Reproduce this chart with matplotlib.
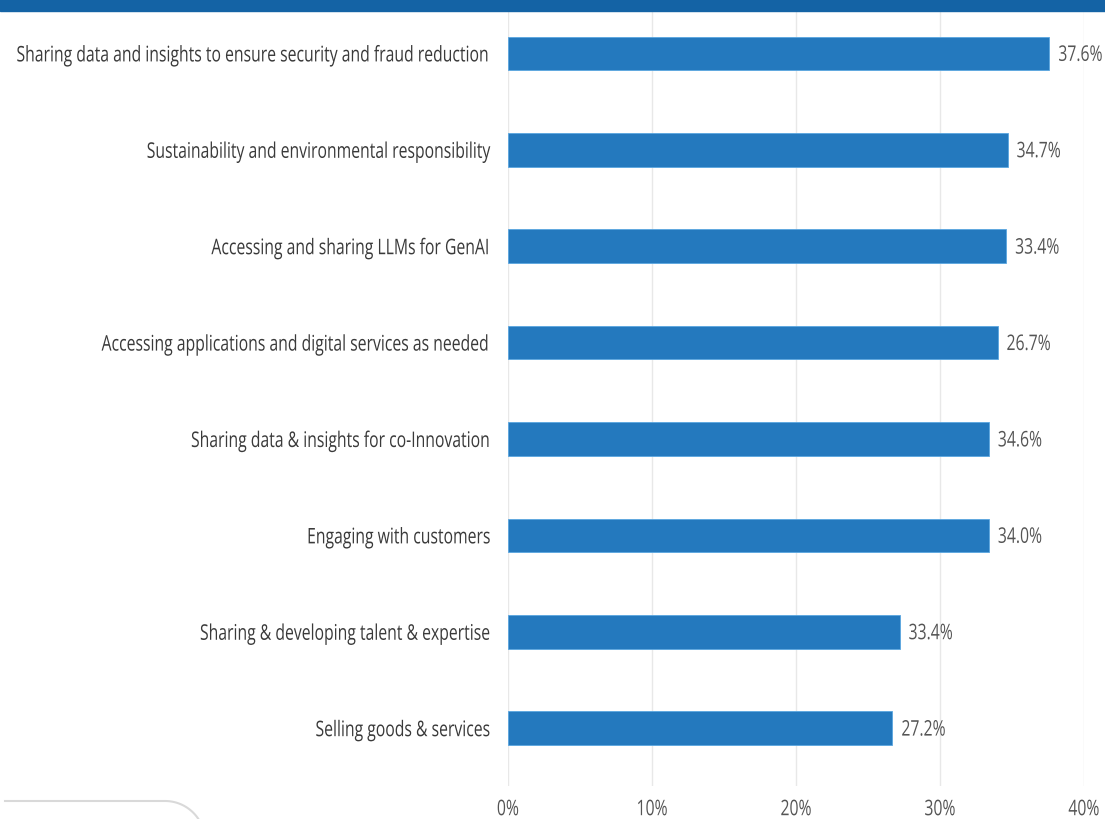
import numpy as np
import matplotlib.pyplot as plt
from matplotlib.patches import Rectangle
from matplotlib.lines import Line2D
from matplotlib.patheffects import AbstractPathEffect
from matplotlib.transforms import Affine2D

categories = [
    "Sharing data and insights to ensure security and fraud reduction",
    "Sustainability and environmental responsibility",
    "Accessing and sharing LLMs for GenAI",
    "Accessing applications and digital services as needed",
    "Sharing data & insights for co-Innovation",
    "Engaging with customers",
    "Sharing & developing talent & expertise",
    "Selling goods & services",
]
# bar lengths as drawn
values = [37.6, 34.7, 34.6, 34.0, 33.4, 33.4, 27.2, 26.7]
# labels as printed next to the bars
value_labels = ["37.6%", "34.7%", "33.4%", "26.7%", "34.6%", "34.0%", "33.4%", "27.2%"]
xticks = [0, 10, 20, 30, 40]
xtick_labels = ["0%", "10%", "20%", "30%", "40%"]

plt.rcParams['font.family'] = ['Open Sans', 'DejaVu Sans']
FS = 15.5
SQ = 0.732  # the source font is a condensed face


class Squeeze(AbstractPathEffect):
    """squeeze text horizontally around one edge"""
    def __init__(self, sx, anchor):
        super().__init__()
        self.sx, self.anchor = sx, anchor

    def draw_path(self, renderer, gc, tpath, affine, rgbFace=None):
        bb = tpath.get_extents(affine)
        x0 = {"left": bb.x0, "right": bb.x1, "center": (bb.x0 + bb.x1) / 2}[self.anchor]
        t = affine + Affine2D().translate(-x0, 0).scale(self.sx, 1).translate(x0, 0)
        renderer.draw_path(gc, tpath, t, rgbFace)


W, H = 1105, 820
fig = plt.figure(figsize=(W / 100, H / 100), dpi=100)
ax = fig.add_axes([508 / W, 1 - 787 / H, (1084 - 508) / W, (787 - 12) / H])

y = list(range(len(categories)))
ax.barh(y, values, height=0.35, color="#2479be", edgecolor="#5aa6e0", linewidth=0.6, zorder=3)
for yi, v, lab in zip(y, values, value_labels):
    ax.text(v + 0.6, yi + 0.02, lab, va="center", ha="left", fontsize=FS, color="#555555",
            path_effects=[Squeeze(SQ, "left")])

ax.set_xlim(0, 40)
ax.set_ylim(7.6, -0.44)
ax.set_yticks(y)
ax.set_yticklabels(categories, fontsize=FS, color="#3a3a3a")
ax.set_xticks(xticks)
ax.set_xticklabels(xtick_labels, fontsize=FS, color="#555555")
for t in ax.get_yticklabels():
    t.set_path_effects([Squeeze(SQ, "right")])
for t in ax.get_xticklabels():
    t.set_path_effects([Squeeze(SQ, "center")])
ax.grid(axis="x", color="#e8e8e8", linewidth=1, zorder=0)
ax.tick_params(axis="y", length=0, pad=12)
ax.tick_params(axis="x", bottom=False, top=True, labelbottom=True, labeltop=False,
               length=7, color="#e3ebf3", width=1.2, pad=2.5)
for s in ax.spines.values():
    s.set_visible(False)

# header band
fig.patches.append(Rectangle((0, 1 - 12 / H), 1, 12 / H, transform=fig.transFigure,
                             color="#1463a5", zorder=0))
# rounded corner of a panel at bottom left
t = np.linspace(0, np.pi / 2.6, 30)
r = 40
cx, cy = 165, 802 + r
xs = list(np.linspace(5, cx, 10)) + list(cx + r * np.sin(t))
ys = [802] * 10 + list(cy - r * np.cos(t))
fig.lines.append(Line2D([x / W for x in xs], [1 - v / H for v in ys],
                        transform=fig.transFigure, color="#d9d9d9", linewidth=1.5))

fig.savefig("out.png", dpi=100)
